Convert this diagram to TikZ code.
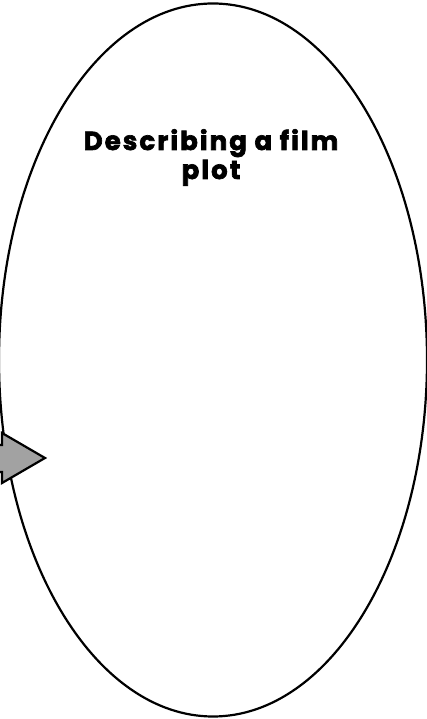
\documentclass[tikz,border=0pt]{standalone}
\usepackage{fontspec}
\setmainfont{Poppins}
\newfontfamily\headfont{Poppins}[BoldFeatures={FakeBold=2.5},LetterSpace=8]
\usetikzlibrary{shapes.geometric}
\definecolor{arrowgray}{RGB}{162,162,162}

\begin{document}
\begin{tikzpicture}[
    x=1pt,y=1pt,
    oval/.style={draw,ellipse,fill=white,line width=2.2pt,inner sep=0pt},
    title/.style={align=center,inner sep=0pt,
                  font=\headfont\fontsize{26}{29}\selectfont\bfseries},
    pointer/.style={draw,fill=arrowgray,line width=2.2pt,line join=miter}
]
  \useasboundingbox (0,0) rectangle (427,719);

  % Big oval
  \node[oval,minimum width=428pt,minimum height=713pt] (plotoval) at (213,359) {};

  % Heading (base = last line)
  \node[title,anchor=base] (heading) at (211,540) {Describing a film\\plot};

  % Grey block arrow coming in from the left
  \draw[pointer] (-20,274) -- (2,274) -- (2,286) -- (45,261)
                 -- (2,236) -- (2,247) -- (-20,247) -- cycle;
\end{tikzpicture}
\end{document}
